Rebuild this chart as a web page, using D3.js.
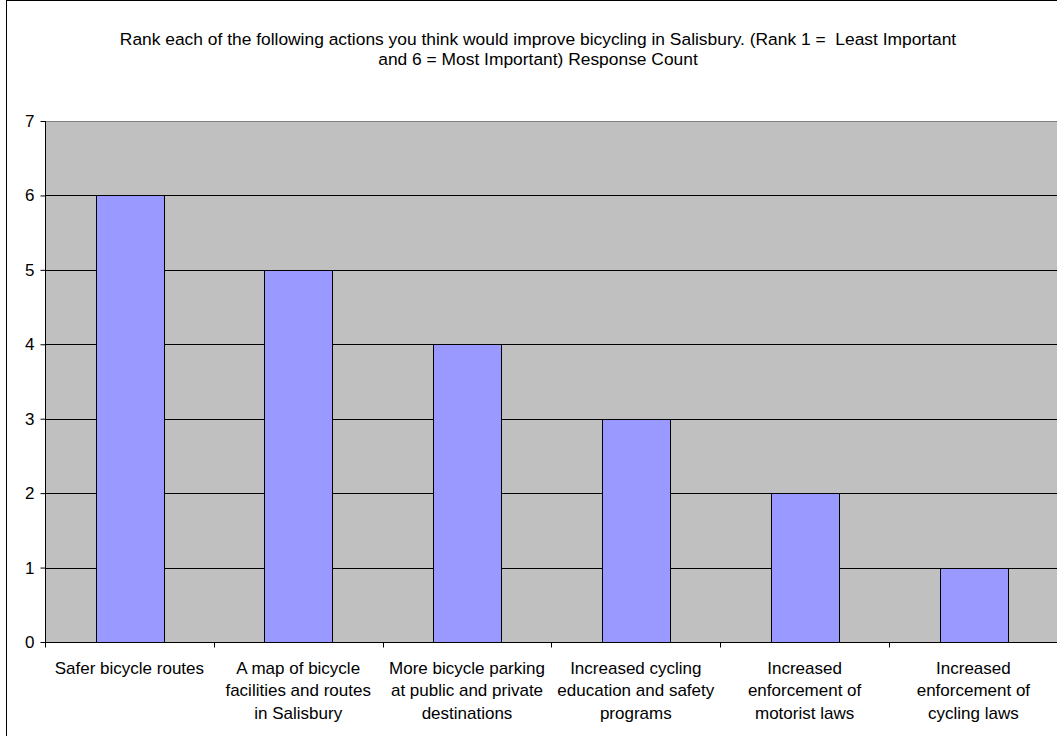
<!DOCTYPE html>
<html>
<head>
<meta charset="utf-8">
<script src="https://cdn.jsdelivr.net/npm/d3@7"></script>
<style>
  body { margin: 0; background: #fff; }
  text { font-family: Arial, "Liberation Sans", sans-serif; fill: #000; }
</style>
</head>
<body>
<div id="chart"></div>
<script>
// Chart data
var categories = [
  "Safer bicycle routes",
  "A map of bicycle|facilities and routes|in Salisbury",
  "More bicycle parking|at public and private|destinations",
  "Increased cycling|education and safety|programs",
  "Increased|enforcement of|motorist laws",
  "Increased|enforcement of|cycling laws"
];
var counts = [6, 5, 4, 3, 2, 1];
var yTicks = [0, 1, 2, 3, 4, 5, 6, 7];
var titleLines = [
  "Rank each of the following actions you think would improve bicycling in Salisbury. (Rank 1 =  Least Important",
  "and 6 = Most Important) Response Count"
];

var W = 1057, H = 736;
var plot = { left: 45, top: 121, bottom: 642, band: 168.8 };

var svg = d3.select("#chart")
  .append("svg")
  .attr("width", W)
  .attr("height", H);

// outer chart border (runs off the picture on the right and bottom)
svg.append("rect")
  .attr("x", 6.5).attr("y", 0.5)
  .attr("width", 1100).attr("height", 800)
  .attr("fill", "#fff")
  .attr("stroke", "#000");

var x = d3.scaleBand()
  .domain(categories)
  .range([plot.left, plot.left + plot.band * categories.length]);

var y = d3.scaleLinear()
  .domain([0, 7])
  .range([plot.bottom, plot.top]);

// plot background
svg.append("rect")
  .attr("x", plot.left).attr("y", plot.top)
  .attr("width", x.range()[1] - plot.left)
  .attr("height", plot.bottom - plot.top)
  .attr("fill", "#c0c0c0");

// gridlines
svg.append("g")
  .selectAll("line")
  .data(yTicks.filter(d => d > 0))
  .enter()
  .append("line")
  .attr("x1", plot.left).attr("x2", x.range()[1])
  .attr("y1", d => Math.round(y(d)) + 0.5)
  .attr("y2", d => Math.round(y(d)) + 0.5)
  .attr("stroke", d => d === 7 ? "#808080" : "#000")
  .attr("stroke-width", 1);

// bars, 40% of each band, centred
var bw = x.bandwidth();
svg.append("g")
  .selectAll("rect")
  .data(counts)
  .enter()
  .append("rect")
  .attr("x", (d, i) => Math.round(x(categories[i]) + bw * 0.3) + 0.5)
  .attr("y", d => Math.round(y(d)) + 0.5)
  .attr("width", Math.round(bw * 0.4))
  .attr("height", d => Math.round(y(0)) - Math.round(y(d)))
  .attr("fill", "#9999ff")
  .attr("stroke", "#000")
  .attr("stroke-width", 1);

// y axis
var yAxis = svg.append("g")
  .attr("transform", "translate(" + (plot.left + 0.5) + ",0)")
  .call(d3.axisLeft(y).tickValues(yTicks).tickSize(5).tickPadding(6).tickFormat(d3.format("d")));
yAxis.select(".domain").attr("stroke", "#000").attr("d", "M0," + plot.top + "V" + (plot.bottom + 0.5));
yAxis.selectAll(".tick line").attr("stroke", "#000");
yAxis.selectAll("text").attr("font-size", 17).attr("font-family", "Arial, 'Liberation Sans', sans-serif").attr("fill", "#000");

// x axis: ticks on band boundaries
var xAxis = svg.append("g")
  .attr("transform", "translate(0," + (plot.bottom + 0.5) + ")");
xAxis.append("line")
  .attr("x1", plot.left).attr("x2", x.range()[1])
  .attr("stroke", "#000");
xAxis.selectAll(".xt")
  .data(categories)
  .enter()
  .append("line")
  .attr("class", "xt")
  .attr("x1", d => Math.round(x(d)) + 0.5)
  .attr("x2", d => Math.round(x(d)) + 0.5)
  .attr("y1", 0).attr("y2", 5)
  .attr("stroke", "#000");

var labels = xAxis.selectAll(".xl")
  .data(categories)
  .enter()
  .append("text")
  .attr("class", "xl")
  .attr("text-anchor", "middle")
  .attr("font-size", 17)
  .attr("transform", d => "translate(" + (x(d) + bw / 2) + ",31)");
labels.selectAll("tspan")
  .data(d => d.split("|"))
  .enter()
  .append("tspan")
  .attr("x", 0)
  .attr("y", (d, i) => i * 22.5)
  .text(d => d);

// title (keeps the double space after "=")
svg.append("g")
  .selectAll("text")
  .data(titleLines)
  .enter()
  .append("text")
  .attr("x", 538)
  .attr("y", (d, i) => 45 + i * 20)
  .attr("text-anchor", "middle")
  .attr("font-size", 17.4)
  .style("white-space", "pre")
  .text(d => d);
</script>
</body>
</html>
